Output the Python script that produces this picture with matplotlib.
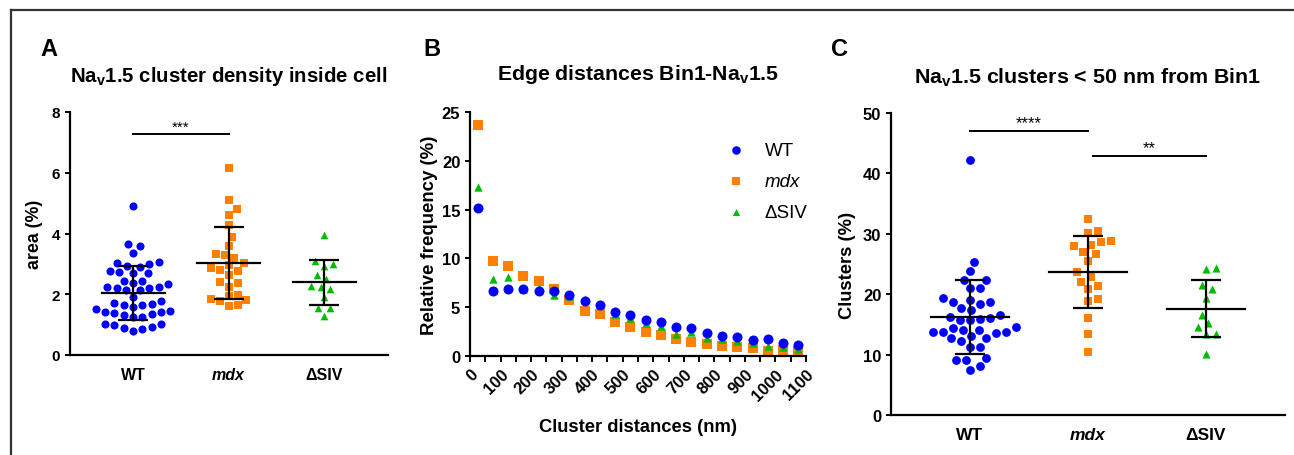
import numpy as np
import matplotlib
matplotlib.use("Agg")
import matplotlib.pyplot as plt
from matplotlib.lines import Line2D

plt.rcParams['font.family'] = ['Liberation Sans', 'DejaVu Sans']
plt.rcParams['font.weight'] = 'bold'
plt.rcParams['axes.titleweight'] = 'bold'
plt.rcParams['axes.labelweight'] = 'bold'
plt.rcParams['mathtext.fontset'] = 'custom'
plt.rcParams['mathtext.rm'] = 'Liberation Sans:bold'
plt.rcParams['mathtext.bf'] = 'Liberation Sans:bold'
plt.rcParams['mathtext.it'] = 'Liberation Sans:bold:italic'

# ---- data ----
groups = ["WT", "mdx", "\u0394SIV"]

# A: Nav1.5 cluster density inside cell, area (%)
wt_area = [4.92, 3.64, 3.58, 3.36, 3.07, 3.00, 2.91, 2.94, 3.03, 2.75, 2.69, 2.69, 2.73,
           2.45, 2.45, 2.35, 2.24, 2.19, 2.15, 2.15, 2.21, 2.24, 2.36, 1.92, 1.79,
           1.70, 1.64, 1.57, 1.63, 1.69, 1.41, 1.38, 1.33, 1.25, 1.44, 1.50, 1.25, 1.35, 1.40,
           1.03, 0.99, 0.88, 0.78, 0.85, 0.93, 1.01]
mdx_area = [6.17, 5.11, 4.81, 4.61, 4.29, 3.88, 3.59, 3.30, 3.32, 3.19, 3.04, 2.88, 2.95,
            2.78, 2.80, 2.64, 2.40, 2.36, 2.25, 1.98, 1.93, 1.83, 1.77, 1.80, 1.60, 1.65]
dsiv_area = [3.96, 3.01, 2.94, 3.08, 2.63, 2.50, 2.25, 2.17, 2.26, 1.92, 1.55, 1.55, 1.29]
area_mean = [2.03, 3.04, 2.40]
area_sd = [0.89, 1.18, 0.74]

# B: edge distances Bin1-Nav1.5, relative frequency (%)
dist_nm = [25, 75, 125, 175, 225, 275, 325, 375, 425, 475, 525,
           575, 625, 675, 725, 775, 825, 875, 925, 975, 1025, 1075]
wt_freq = [15.12, 6.71, 6.88, 6.88, 6.71, 6.71, 6.20, 5.62, 5.25, 4.50, 4.16,
           3.64, 3.47, 3.00, 2.90, 2.35, 2.01, 1.94, 1.67, 1.70, 1.36, 1.16]
mdx_freq = [23.64, 9.71, 9.20, 8.21, 7.70, 6.88, 5.76, 4.56, 4.29, 3.47, 2.96,
            2.45, 2.11, 1.74, 1.43, 1.26, 1.02, 0.92, 0.82, 0.51, 0.65, 0.51]
dsiv_freq = [17.27, 7.89, 8.12, 6.90, 6.96, 6.24, 6.10, 5.87, 5.32, 4.26, 3.85,
             3.38, 3.04, 2.25, 2.42, 1.81, 1.74, 1.57, 1.30, 1.06, 0.90, 0.72]

# C: Nav1.5 clusters < 50 nm from Bin1, clusters (%)
wt_clusters = [42.15, 25.4, 23.8, 22.4, 22.4, 21.0, 21.0, 19.4, 19.1, 18.7, 18.7, 18.4,
               17.7, 17.35, 16.2, 15.96, 15.7, 15.7, 16.0, 16.6, 14.5, 14.1, 13.8, 13.7,
               13.5, 13.8, 14.0, 14.4, 12.7, 12.3, 12.7, 13.0, 11.3, 11.3, 9.5, 9.06,
               9.06, 8.07, 7.5]
mdx_clusters = [32.5, 30.2, 30.4, 28.8, 28.6, 28.2, 27.9, 27.0, 26.7, 25.5, 23.6, 22.8,
                22.0, 21.3, 20.8, 19.2, 18.8, 16.0, 13.4, 10.5]
dsiv_clusters = [24.4, 24.2, 20.8, 21.5, 19.4, 16.6, 15.2, 14.5, 13.4, 13.4, 10.1]
clusters_mean = [16.2, 23.7, 17.6]
clusters_sd = [6.1, 6.0, 4.75]

BLUE = "#0000ff"
ORANGE = "#ff7f00"
GREEN = "#00bb00"
colors = [BLUE, ORANGE, GREEN]
markers = ["o", "s", "^"]

W, H = 1294, 456
fig = plt.figure(figsize=(W / 100, H / 100), dpi=100)


def px_axes(left, top, right, bottom):
    return fig.add_axes([left / W, 1 - bottom / H, (right - left) / W, (bottom - top) / H])


def style_axes(ax, fs):
    for s in ["top", "right"]:
        ax.spines[s].set_visible(False)
    for s in ["left", "bottom"]:
        ax.spines[s].set_linewidth(1.6)
    ax.tick_params(width=1.4, length=3.5, labelsize=fs)


def swarm(ax, x0, vals, diam):
    # simple beeswarm: place points (in pixels) as close to the centre as possible
    pts = ax.transData.transform(np.column_stack([np.full(len(vals), x0), vals]))
    xc = pts[0, 0]
    ys = pts[:, 1]
    xs = np.zeros(len(vals))
    placed = []
    step = diam / 8.0
    for i in np.argsort(ys):
        y = ys[i]
        for k in range(400):
            found = False
            for sgn in ([0] if k == 0 else [1, -1]):
                x = xc + sgn * k * step
                if all((x - px) ** 2 + (y - py) ** 2 >= diam ** 2 for px, py in placed):
                    found = True
                    break
            if found:
                break
        placed.append((x, y))
        xs[i] = x
    back = ax.transData.inverted().transform(np.column_stack([xs, ys]))
    return back[:, 0]


def dot_panel(ax, data, means, sds, sizes, diam, fs):
    for i, vals in enumerate(data):
        xs = swarm(ax, i, vals, diam)
        ax.scatter(xs, vals, s=sizes[i], marker=markers[i], color=colors[i],
                   linewidths=0, zorder=2)
        ax.plot([i - 0.33, i + 0.33], [means[i], means[i]], color="black", lw=1.6, zorder=3)
        ax.errorbar(i, means[i], yerr=sds[i], fmt="none", ecolor="black",
                    elinewidth=1.6, capsize=11, capthick=1.6, zorder=3)
    ax.set_xticks(range(3))
    ax.set_xticklabels(groups, fontsize=fs)
    ax.get_xticklabels()[1].set_fontstyle("italic")
    ax.tick_params(axis="x", length=0, pad=9)


def sig_bar(ax, x1, x2, y, text, dy, fs):
    ax.plot([x1, x2], [y, y], color="black", lw=1.4)
    ax.text((x1 + x2) / 2, y + dy, text, ha="center", va="bottom", fontsize=fs,
            fontweight="normal")


# ---- panel A ----
axA = px_axes(70, 113, 388, 356)
style_axes(axA, 11)
axA.set_xlim(-0.66, 2.67)
axA.set_ylim(0, 8)
axA.set_yticks([0, 2, 4, 6, 8])
dot_panel(axA, [wt_area, mdx_area, dsiv_area], area_mean, area_sd, [34, 30, 30], 9.3, 11.5)
sig_bar(axA, 0, 1, 7.27, "***", 0.0, 11)
axA.set_ylabel("area (%)", fontsize=12.8, labelpad=6)
axA.set_title("Na$_\\mathrm{v}$1.5 cluster density inside cell", fontsize=14.7, pad=22)

# ---- panel B ----
axB = px_axes(470, 113, 806, 357)
style_axes(axB, 12)
axB.set_xlim(0, 1100)
axB.set_ylim(0, 25)
axB.set_yticks([0, 5, 10, 15, 20, 25])
axB.set_xticks(range(0, 1101, 100))
axB.set_xticks(range(50, 1100, 100), minor=True)
axB.tick_params(axis="x", which="both", width=1.4, length=4)
for lab in axB.get_xticklabels():
    lab.set_rotation(45)
    lab.set_ha("right")
    lab.set_rotation_mode("anchor")
axB.scatter(dist_nm, mdx_freq, s=44, marker="s", color=ORANGE, linewidths=0, zorder=2,
            label="mdx")
axB.scatter(dist_nm, dsiv_freq, s=36, marker="^", color=GREEN, linewidths=0, zorder=3,
            label="\u0394SIV")
axB.scatter(dist_nm, wt_freq, s=52, marker="o", color=BLUE, linewidths=0, zorder=4,
            label="WT")
handles, labels = axB.get_legend_handles_labels()
order = [2, 0, 1]
leg = axB.legend([handles[i] for i in order], [labels[i] for i in order],
                 loc="upper left", bbox_to_anchor=(0.715, 0.91), frameon=False,
                 fontsize=13.5, handletextpad=0.5, labelspacing=0.75, borderaxespad=0,
                 markerscale=0.85)
for t in leg.get_texts():
    t.set_fontweight("normal")
leg.get_texts()[1].set_fontstyle("italic")
axB.set_ylabel("Relative frequency (%)", fontsize=13.4, labelpad=3)
axB.set_xlabel("Cluster distances (nm)", fontsize=13.2, labelpad=11)
axB.set_title("Edge distances Bin1-Na$_\\mathrm{v}$1.5", fontsize=15.3, pad=24)

# ---- panel C ----
axC = px_axes(891, 114, 1285, 416)
style_axes(axC, 12)
axC.set_xlim(-0.67, 2.67)
axC.set_ylim(0, 50)
axC.set_yticks([0, 10, 20, 30, 40, 50])
dot_panel(axC, [wt_clusters, mdx_clusters, dsiv_clusters], clusters_mean, clusters_sd,
          [40, 34, 34], 10, 12.5)
sig_bar(axC, 0, 1, 47.0, "****", 0.2, 12)
sig_bar(axC, 1.04, 2, 42.8, "**", 0.2, 12)
axC.set_ylabel("Clusters (%)", fontsize=13.2, labelpad=5)
axC.set_title("Na$_\\mathrm{v}$1.5 clusters < 50 nm from Bin1", fontsize=15.4, pad=22)

# panel letters
for letter, x in [("A", 40), ("B", 423), ("C", 831)]:
    fig.text(x / W, 1 - 38 / H, letter, fontsize=17, fontweight="bold", va="top", ha="left")

# frame (top and left edges only)
fig.add_artist(Line2D([11 / W, 1], [1 - 11 / H, 1 - 11 / H], color="#333333", lw=1.6))
fig.add_artist(Line2D([11 / W, 11 / W], [0, 1 - 11 / H], color="#333333", lw=1.6))

fig.savefig("out.png", dpi=100)
